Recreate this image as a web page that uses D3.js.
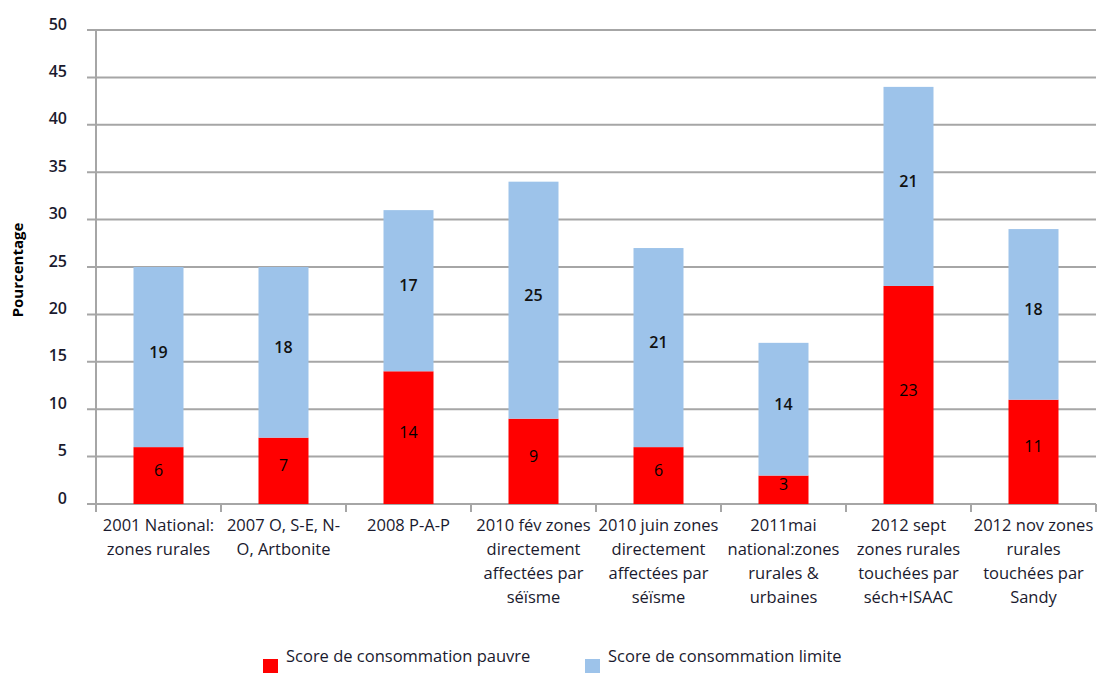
<!DOCTYPE html>
<html>
<head>
<meta charset="utf-8">
<script src="https://cdn.jsdelivr.net/npm/d3@7"></script>
<style>
  body { margin: 0; background: #fff; }
  text { font-family: "Open Sans", "DejaVu Sans", sans-serif; }
</style>
</head>
<body>
<div id="chart-area"></div>
<script>
var categories = [
    ["2001 National:", "zones rurales"],
    ["2007 O, S-E, N-", "O, Artbonite"],
    ["2008 P-A-P"],
    ["2010 fév zones", "directement", "affectées par", "séïsme"],
    ["2010 juin zones", "directement", "affectées par", "séïsme"],
    ["2011mai", "national:zones", "rurales &", "urbaines"],
    ["2012 sept", "zones rurales", "touchées par", "séch+ISAAC"],
    ["2012 nov zones", "rurales", "touchées par", "Sandy"]
];
var pauvre = [6, 7, 14, 9, 6, 3, 23, 11];
var limite = [19, 18, 17, 25, 21, 14, 21, 18];
var yTicks = [0, 5, 10, 15, 20, 25, 30, 35, 40, 45, 50];
var seriesNames = ["Score de consommation pauvre", "Score de consommation limite"];
var seriesColours = ["#ff0000", "#9dc3ea"];

var margin = {left: 96, right: 2, top: 30, bottom: 169};
var width = 1098 - margin.left - margin.right;
var height = 673 - margin.top - margin.bottom;

var svg = d3.select("#chart-area").append("svg")
    .attr("width", 1098)
    .attr("height", 673);

var g = svg.append("g")
    .attr("transform", "translate(" + margin.left + "," + margin.top + ")");

var x = d3.scaleBand()
    .domain(d3.range(categories.length))
    .range([0, width])
    .paddingInner(0.6)
    .paddingOuter(0.3);

var y = d3.scaleLinear()
    .domain([0, 50])
    .range([height, 0]);

var step = width / categories.length;

// gridlines
g.selectAll(".grid")
    .data(yTicks)
    .enter().append("line")
    .attr("class", "grid")
    .attr("x1", -9)
    .attr("x2", width)
    .attr("y1", function(d){ return y(d); })
    .attr("y2", function(d){ return y(d); })
    .attr("stroke", "#a6a6a6")
    .attr("stroke-width", 2);

// y axis line
g.append("line")
    .attr("x1", 0).attr("x2", 0)
    .attr("y1", 0).attr("y2", height + 8)
    .attr("stroke", "#a6a6a6")
    .attr("stroke-width", 2);

// category ticks
g.selectAll(".xtick")
    .data(d3.range(categories.length + 1))
    .enter().append("line")
    .attr("x1", function(i){ return i * step; })
    .attr("x2", function(i){ return i * step; })
    .attr("y1", height)
    .attr("y2", height + 8)
    .attr("stroke", "#a6a6a6")
    .attr("stroke-width", 2);

// y tick labels
g.selectAll(".ylabel")
    .data(yTicks)
    .enter().append("text")
    .attr("x", -29)
    .attr("y", function(d){ return y(d) - 6; })
    .attr("dy", "0.35em")
    .attr("text-anchor", "end")
    .attr("font-size", "16px")
    .attr("font-weight", 600)
    .attr("fill", "#1a1a2e")
    .text(function(d){ return d; });

g.append("text")
    .attr("transform", "rotate(-90)")
    .attr("x", -(y(25)) - 3)
    .attr("y", -78)
    .attr("dy", "0.35em")
    .attr("text-anchor", "middle")
    .attr("font-size", "15px")
    .attr("font-weight", 700)
    .attr("fill", "#000")
    .text("Pourcentage");

// bars
var rows = pauvre.map(function(p, i){ return {i: i, pauvre: p, limite: limite[i]}; });

g.selectAll(".bar-pauvre")
    .data(rows)
    .enter().append("rect")
    .attr("x", function(d){ return x(d.i); })
    .attr("width", x.bandwidth())
    .attr("y", function(d){ return y(d.pauvre); })
    .attr("height", function(d){ return y(0) - y(d.pauvre); })
    .attr("fill", seriesColours[0]);

g.selectAll(".bar-limite")
    .data(rows)
    .enter().append("rect")
    .attr("x", function(d){ return x(d.i); })
    .attr("width", x.bandwidth())
    .attr("y", function(d){ return y(d.pauvre + d.limite); })
    .attr("height", function(d){ return y(d.pauvre) - y(d.pauvre + d.limite); })
    .attr("fill", seriesColours[1]);

// value labels
g.selectAll(".lab-pauvre")
    .data(rows)
    .enter().append("text")
    .attr("x", function(d){ return x(d.i) + x.bandwidth() / 2; })
    .attr("y", function(d){ return y(d.pauvre / 2) - 5; })
    .attr("dy", "0.35em")
    .attr("text-anchor", "middle")
    .attr("font-size", "16px")
    .attr("fill", "#000")
    .text(function(d){ return d.pauvre; });

g.selectAll(".lab-limite")
    .data(rows)
    .enter().append("text")
    .attr("x", function(d){ return x(d.i) + x.bandwidth() / 2; })
    .attr("y", function(d){ return y(d.pauvre + d.limite / 2) - 5; })
    .attr("dy", "0.35em")
    .attr("text-anchor", "middle")
    .attr("font-size", "16px")
    .attr("font-weight", 600)
    .attr("fill", "#111")
    .text(function(d){ return d.limite; });

// category labels
categories.forEach(function(lines, i){
    var t = g.append("text")
        .attr("text-anchor", "middle")
        .attr("font-size", "16.5px")
        .attr("fill", "#1a1a2e");
    lines.forEach(function(line, j){
        t.append("tspan")
            .attr("x", x(i) + x.bandwidth() / 2)
            .attr("y", height + 21 + j * 24)
            .attr("dy", "0.35em")
            .text(line);
    });
});

// legend
var legendX = [263, 585];
seriesNames.forEach(function(name, i){
    svg.append("rect")
        .attr("x", legendX[i])
        .attr("y", 659)
        .attr("width", 15)
        .attr("height", 15)
        .attr("fill", seriesColours[i]);
    svg.append("text")
        .attr("x", legendX[i] + 23)
        .attr("y", 656)
        .attr("dy", "0.35em")
        .attr("font-size", "16.5px")
        .attr("fill", "#1a1a2e")
        .text(name);
});
</script>
</body>
</html>
